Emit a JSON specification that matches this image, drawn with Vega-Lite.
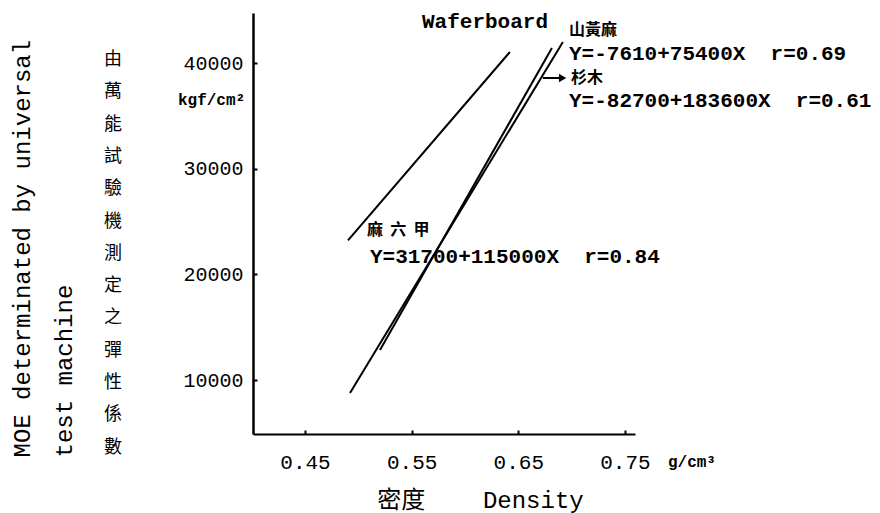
{
  "$schema": "https://vega.github.io/schema/vega-lite/v6.json",
  "width": 382,
  "height": 421,
  "autosize": "none",
  "padding": {"left": 253, "top": 13, "right": 245, "bottom": 79},
  "background": "white",
  "config": {
    "view": {"stroke": null},
    "axis": {
      "grid": false,
      "domainColor": "black",
      "tickColor": "black",
      "labelColor": "black",
      "titleColor": "black"
    }
  },
  "resolve": {"axis": {"x": "independent", "y": "independent"}},
  "datasets": {
    "fits": [
      {"species": "麻六甲", "density": 0.4903, "moe": 23220},
      {"species": "麻六甲", "density": 0.6421, "moe": 41040},
      {"species": "山黃麻", "density": 0.4922, "moe": 8770},
      {"species": "山黃麻", "density": 0.6918, "moe": 41990},
      {"species": "杉木", "density": 0.5203, "moe": 12840},
      {"species": "杉木", "density": 0.6815, "moe": 41420}
    ],
    "equations": [
      {"density": 0.5597, "moe": 43879, "text": "Waferboard"},
      {"density": 0.6975, "moe": 40851, "text": "Y=-7610+75400X\u00a0\u00a0r=0.69"},
      {"density": 0.6975, "moe": 36403, "text": "Y=-82700+183600X\u00a0\u00a0r=0.61"},
      {"density": 0.5109, "moe": 21640, "text": "Y=31700+115000X\u00a0\u00a0r=0.84"}
    ],
    "names": [
      {"density": 0.6975, "moe": 43122, "text": "山黃麻"},
      {"density": 0.6994, "moe": 38580, "text": "杉木"},
      {"density": 0.5081, "moe": 24195, "text": "麻\u00a0\u00a0六\u00a0\u00a0甲"}
    ],
    "units": [
      {"density": 0.3309, "moe": 36498, "text": "kgf/cm²"},
      {"density": 0.7903, "moe": 2240, "text": "g/cm³"}
    ],
    "caption": [
      {"density": 0.27, "moe": 41135, "text": "由\n萬\n能\n試\n驗\n機\n測\n定\n之\n彈\n性\n係\n數"}
    ],
    "pointer": [
      {"from": 0.6731, "to": 0.6915, "moe": 38580}
    ]
  },
  "layer": [
    {
      "data": {"name": "fits"},
      "mark": {"type": "line", "color": "black", "strokeWidth": 2},
      "encoding": {
        "x": {
          "field": "density",
          "type": "quantitative",
          "scale": {"domain": [0.40125, 0.7594], "nice": false, "zero": false},
          "axis": {
            "values": [0.45, 0.55, 0.65, 0.75],
            "format": ".2f",
            "domainWidth": 2,
            "tickSize": -4,
            "tickWidth": 2,
            "labelFont": "Liberation Mono",
            "labelFontSize": 21,
            "labelPadding": 21,
            "labelDx": 8,
            "labelBaseline": "top",
            "title": "密度\u00a0\u00a0\u00a0\u00a0Density",
            "titleFont": "Liberation Mono, Noto Sans CJK TC",
            "titleFontSize": 24,
            "titleFontWeight": "normal",
            "titleAlign": "center",
            "titleBaseline": "middle",
            "titleX": 227,
            "titleY": 66
          }
        },
        "y": {
          "field": "moe",
          "type": "quantitative",
          "scale": {"domain": [4890, 44732], "nice": false, "zero": false},
          "axis": {
            "values": [10000, 20000, 30000, 40000],
            "format": "d",
            "domainWidth": 2.5,
            "tickSize": -4,
            "tickWidth": 2,
            "labelFont": "Liberation Mono",
            "labelFontSize": 20,
            "labelPadding": 14,
            "labelDy": 3,
            "title": ["MOE determinated by universal", "test machine"],
            "titleFont": "Liberation Mono",
            "titleFontSize": 24,
            "titleFontWeight": "normal",
            "titleAngle": 270,
            "titleAlign": "left",
            "titleBaseline": "middle",
            "titleLineHeight": 42,
            "titleX": -231,
            "titleY": 444
          }
        },
        "detail": {"field": "species", "type": "nominal"}
      }
    },
    {
      "data": {"name": "equations"},
      "mark": {"type": "text", "align": "left", "baseline": "middle", "font": "Liberation Mono", "fontSize": 21, "fontWeight": "bold", "color": "black"},
      "encoding": {
        "x": {"field": "density", "type": "quantitative", "scale": {"domain": [0.40125, 0.7594], "nice": false, "zero": false}, "axis": null},
        "y": {"field": "moe", "type": "quantitative", "scale": {"domain": [4890, 44732], "nice": false, "zero": false}, "axis": null},
        "text": {"field": "text"}
      }
    },
    {
      "data": {"name": "names"},
      "mark": {"type": "text", "align": "left", "baseline": "middle", "font": "Noto Sans CJK TC", "fontSize": 16, "fontWeight": "bold", "color": "black"},
      "encoding": {
        "x": {"field": "density", "type": "quantitative", "scale": {"domain": [0.40125, 0.7594], "nice": false, "zero": false}, "axis": null},
        "y": {"field": "moe", "type": "quantitative", "scale": {"domain": [4890, 44732], "nice": false, "zero": false}, "axis": null},
        "text": {"field": "text"}
      }
    },
    {
      "data": {"name": "units"},
      "mark": {"type": "text", "align": "left", "baseline": "middle", "font": "Liberation Mono", "fontSize": 16, "fontWeight": "bold", "color": "black"},
      "encoding": {
        "x": {"field": "density", "type": "quantitative", "scale": {"domain": [0.40125, 0.7594], "nice": false, "zero": false}, "axis": null},
        "y": {"field": "moe", "type": "quantitative", "scale": {"domain": [4890, 44732], "nice": false, "zero": false}, "axis": null},
        "text": {"field": "text"}
      }
    },
    {
      "data": {"name": "caption"},
      "mark": {"type": "text", "align": "center", "baseline": "top", "lineBreak": "\n", "lineHeight": 32.3, "font": "Noto Sans CJK TC", "fontSize": 18, "color": "black"},
      "encoding": {
        "x": {"field": "density", "type": "quantitative", "scale": {"domain": [0.40125, 0.7594], "nice": false, "zero": false}, "axis": null},
        "y": {"field": "moe", "type": "quantitative", "scale": {"domain": [4890, 44732], "nice": false, "zero": false}, "axis": null},
        "text": {"field": "text"}
      }
    },
    {
      "data": {"name": "pointer"},
      "mark": {"type": "rule", "color": "black", "strokeWidth": 2},
      "encoding": {
        "x": {"field": "from", "type": "quantitative", "scale": {"domain": [0.40125, 0.7594], "nice": false, "zero": false}, "axis": null},
        "x2": {"field": "to"},
        "y": {"field": "moe", "type": "quantitative", "scale": {"domain": [4890, 44732], "nice": false, "zero": false}, "axis": null}
      }
    },
    {
      "data": {"name": "pointer"},
      "mark": {"type": "point", "shape": "triangle-right", "filled": true, "color": "black", "size": 70, "opacity": 1},
      "encoding": {
        "x": {"field": "to", "type": "quantitative", "scale": {"domain": [0.40125, 0.7594], "nice": false, "zero": false}, "axis": null},
        "y": {"field": "moe", "type": "quantitative", "scale": {"domain": [4890, 44732], "nice": false, "zero": false}, "axis": null}
      }
    }
  ]
}
